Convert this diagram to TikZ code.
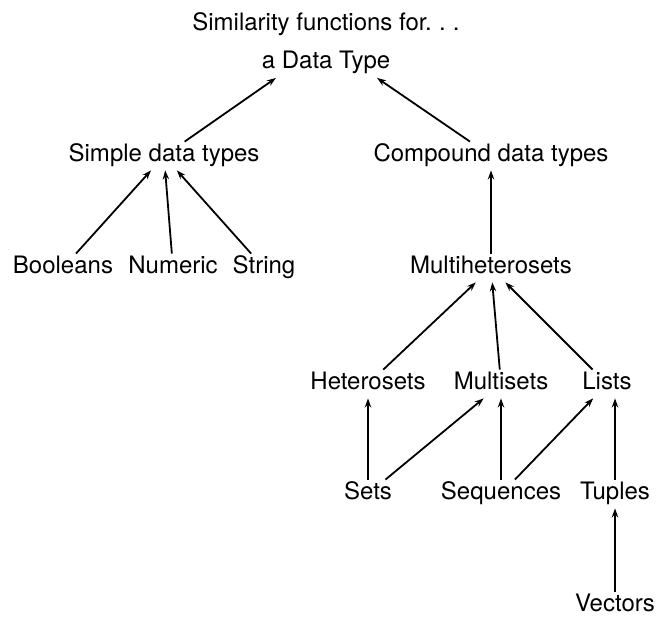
\documentclass[tikz,border=0pt]{standalone}
\usepackage{fontspec}
\setsansfont{TeX Gyre Heros}
\usetikzlibrary{arrows.meta}

\begin{document}
\begin{tikzpicture}[
  x=0.5pt, y=-0.5pt,
  font=\sffamily\fontsize{12}{14.5}\selectfont,
  >={Stealth[length=4.5pt, width=3.2pt]},
  dt/.style={inner sep=2pt, text height=0.75em, text depth=0.25em},
  isa/.style={->, line width=0.9pt},
]
\useasboundingbox (0,0) rectangle (656,621);

% ---- root ----
\node[inner sep=2pt, align=center] (root) at (326,43)
  {Similarity functions for.\kern.3em.\kern.3em.\\[4.5pt]a Data Type};

% ---- first level ----
\node[dt] (simple)   at (164,156) {Simple data types};
\node[dt] (compound) at (491,156) {Compound data types};

% ---- simple types ----
\node[dt] (bool) at (63,268)  {Booleans};
\node[dt] (num)  at (173,268) {Numeric};
\node[dt] (str)  at (264,268) {String};

% ---- compound types ----
\node[dt] (multihet) at (491,268) {Multiheterosets};
\node[dt] (het)      at (368,384) {Heterosets};
\node[dt] (mset)     at (501,384) {Multisets};
\node[dt] (lists)    at (607,384) {Lists};
\node[dt] (sets)     at (368,494) {Sets};
\node[dt] (seq)      at (501,494) {Sequences};
\node[dt] (tuples)   at (615,494) {Tuples};
\node[dt] (vec)      at (615,606) {Vectors};

% ---- is-a arrows ----
\draw[isa] (simple) -- (root);
\draw[isa] (compound) -- (root);
\draw[isa] (bool) -- (simple);
\draw[isa] (num) -- (simple);
\draw[isa] (str) -- (simple);
\draw[isa] (multihet) -- (compound);
\draw[isa] (het) -- (multihet);
\draw[isa] (mset) -- (multihet);
\draw[isa] (lists) -- (multihet);
\draw[isa] (sets) -- (het);
\draw[isa] (sets) -- (mset);
\draw[isa] (seq) -- (mset);
\draw[isa] (seq) -- (lists);
\draw[isa] (tuples.north) -- (tuples.north |- lists.south);
\draw[isa] (vec) -- (tuples);

\end{tikzpicture}
\end{document}
